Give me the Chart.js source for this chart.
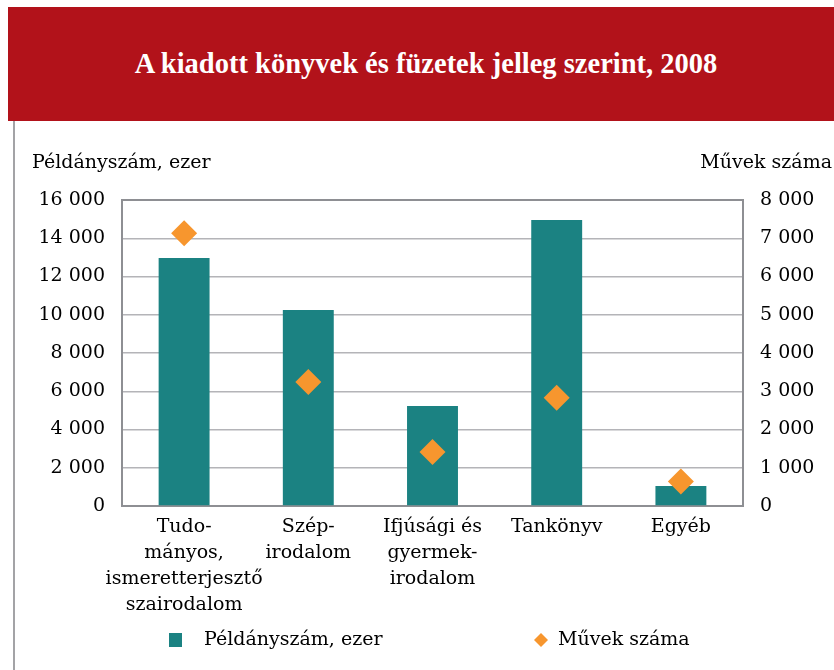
<!doctype html>
<html lang="hu">
<head>
<meta charset="utf-8">
<title>A kiadott könyvek és füzetek jelleg szerint, 2008</title>
<style>
  body { margin: 0; background: #fff; width: 834px; height: 670px; position: relative; overflow: hidden; }
  #banner {
    position: absolute; left: 8px; top: 7px; width: 826px; height: 114px;
    background: #b2121a; color: #fff;
    font: bold 28.5px "Liberation Serif", serif;
    display: flex; align-items: center; justify-content: center;
    padding-left: 10px; box-sizing: border-box;
  }
  #rule { position: absolute; left: 13px; top: 121px; width: 2px; height: 549px; background: #a3a3a6; }
  #wrap { position: absolute; left: 16px; top: 121px; width: 818px; height: 549px; }
</style>
</head>
<body>
<div id="banner">A kiadott könyvek és füzetek jelleg szerint, 2008</div>
<div id="rule"></div>
<div id="wrap"><canvas id="chart"></canvas></div>
<script src="https://cdn.jsdelivr.net/npm/chart.js@4/dist/chart.umd.min.js"></script>
<script>
// data
const categories = [
  ['Tudo-', 'mányos,', 'ismeretterjesztő', 'szairodalom'],
  ['Szép-', 'irodalom'],
  ['Ifjúsági és', 'gyermek-', 'irodalom'],
  'Tankönyv',
  'Egyéb'
];
const copies = [12970, 10250, 5230, 14950, 1050];   // Példányszám, ezer
const works = [7130, 3240, 1410, 2830, 640];        // Művek száma
const leftTicks = { max: 16000, step: 2000 };
const rightTicks = { max: 8000, step: 1000 };

const teal = '#1b8282';
const orange = '#f7962e';
const gridColor = '#b4b4b8';
const frameColor = '#8e8f93';
const textColor = '#000';
const font = { family: '"DejaVu Serif", serif', size: 19 };

function fmt(v) {
  return String(v).replace(/\B(?=(\d{3})+(?!\d))/g, ' ');
}

// axis titles + legend drawn by hand (wide gap between legend items)
const extras = {
  id: 'extras',
  afterDraw(chart) {
    const c = chart.ctx;
    c.save();
    c.fillStyle = textColor;
    c.font = font.size + 'px ' + font.family;
    c.textBaseline = 'middle';
    c.textAlign = 'left';
    c.fillText('Példányszám, ezer', 16, 42);
    c.textAlign = 'right';
    c.fillText('Művek száma', 816, 42);

    const ly = 519;
    // bar legend
    c.fillStyle = teal;
    c.fillRect(153, ly - 7, 13, 14);
    c.fillStyle = textColor;
    c.textAlign = 'left';
    c.fillText(chart.data.datasets[1].label, 188, ly);
    // diamond legend
    c.fillStyle = orange;
    c.beginPath();
    c.moveTo(525, ly - 7); c.lineTo(532, ly); c.lineTo(525, ly + 7); c.lineTo(518, ly);
    c.closePath(); c.fill();
    c.fillStyle = textColor;
    c.fillText(chart.data.datasets[0].label, 542, ly);
    c.restore();
  }
};

new Chart(document.getElementById('chart'), {
  data: {
    labels: categories,
    datasets: [{
      type: 'line',
      label: 'Művek száma',
      data: works,
      yAxisID: 'y1',
      showLine: false,
      pointStyle: 'rectRot',
      pointRadius: 13,
      pointHoverRadius: 13,
      pointBackgroundColor: orange,
      pointBorderColor: orange,
      pointBorderWidth: 0,
      order: 0
    }, {
      type: 'bar',
      label: 'Példányszám, ezer',
      data: copies,
      yAxisID: 'y',
      backgroundColor: teal,
      barPercentage: 0.41,
      categoryPercentage: 1,
      order: 1
    }]
  },
  options: {
    responsive: true,
    maintainAspectRatio: false,
    animation: false,
    layout: { padding: { top: 79, left: 21, right: 6, bottom: 0 } },
    plugins: { legend: { display: false }, tooltip: { enabled: false } },
    scales: {
      x: {
        grid: { display: false },
        border: { display: true, color: frameColor, width: 2 },
        ticks: { color: textColor, font: { ...font, lineHeight: 1.37 }, padding: 0, maxRotation: 0, autoSkip: false },
        afterFit(s) { s.height = 164; }
      },
      y: {
        position: 'left',
        min: 0, max: leftTicks.max,
        grid: {
          color: ctx => ctx.tick && ctx.tick.value === leftTicks.max ? frameColor : gridColor,
          lineWidth: ctx => ctx.tick && ctx.tick.value === leftTicks.max ? 2 : 1.5,
          drawTicks: false
        },
        border: { display: true, color: frameColor, width: 2 },
        ticks: { stepSize: leftTicks.step, color: textColor, font: font, padding: 17, callback: fmt },
        afterFit(s) { s.width = 85; }
      },
      y1: {
        position: 'right',
        min: 0, max: rightTicks.max,
        grid: { drawOnChartArea: false, drawTicks: false },
        border: { display: true, color: frameColor, width: 2 },
        ticks: { stepSize: rightTicks.step, color: textColor, font: font, padding: 17, callback: fmt },
        afterFit(s) { s.width = 85; }
      }
    }
  },
  plugins: [extras]
});
</script>
</body>
</html>
